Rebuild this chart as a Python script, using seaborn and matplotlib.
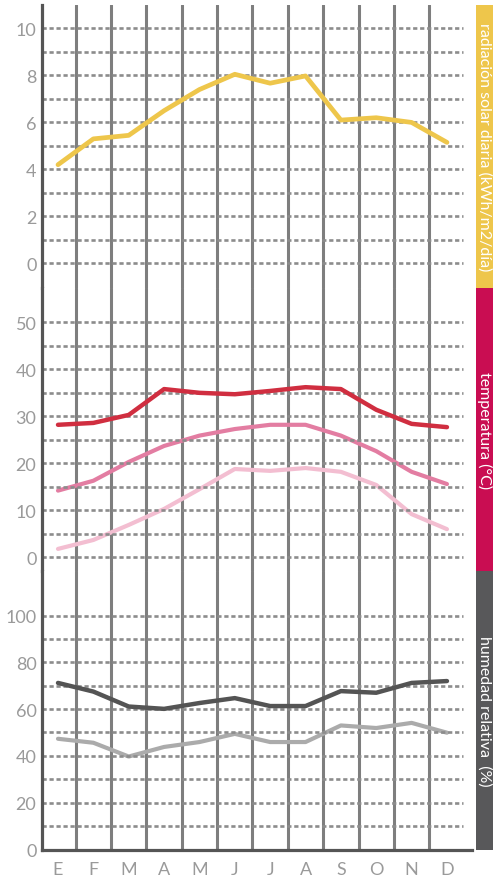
import matplotlib
matplotlib.use("Agg")
import matplotlib.pyplot as plt
import seaborn as sns
import pandas as pd
import numpy as np

sns.set_theme(style="white")
plt.rcParams["font.family"] = ["Lato", "DejaVu Sans"]

# Monthly climate data
months = ["E", "F", "M", "A", "M", "J", "J", "A", "S", "O", "N", "D"]
radiation = [4.2, 5.3, 5.45, 6.5, 7.4, 8.05, 7.67, 7.98, 6.1, 6.2, 6.0, 5.15]
temp_max = [28.2, 28.6, 30.3, 35.8, 35.0, 34.7, 35.4, 36.2, 35.8, 31.4, 28.4, 27.7]
temp_mean = [14.2, 16.3, 20.3, 23.7, 25.9, 27.3, 28.2, 28.2, 25.9, 22.6, 18.2, 15.6]
temp_min = [1.8, 3.7, 6.9, 10.3, 14.5, 18.8, 18.4, 19.0, 18.2, 15.4, 9.2, 6.0]
hum_max = [71.2, 67.5, 61.1, 60.1, 62.6, 64.7, 61.3, 61.3, 67.7, 67.0, 71.2, 72.0]
hum_min = [47.3, 45.6, 39.7, 43.8, 45.9, 49.4, 45.9, 45.9, 53.0, 51.9, 54.1, 49.9]

panel_titles = ["radiación solar diaria (kWh/m2/día)", "temperatura (°C)", "humedad relativa  (%)"]
band_colors = ["#EEC64B", "#C90D52", "#58585A"]

df = pd.DataFrame({
    "idx": np.arange(len(months)),
    "radiation": radiation,
    "temp_max": temp_max,
    "temp_mean": temp_mean,
    "temp_min": temp_min,
    "hum_max": hum_max,
    "hum_min": hum_min,
})

W, H = 493, 879
fig = plt.figure(figsize=(W / 100, H / 100), dpi=100)

left_px, right_px = 42, 472
panels_px = [(6, 289), (289, 572), (572, 851)]
axes = []
for top, bot in panels_px:
    ax = fig.add_axes([left_px / W, 1 - bot / H, (right_px - left_px) / W, (bot - top) / H])
    axes.append(ax)

ylims = [(-1.05, 11.0), (-2.9, 57.3), (-0.3, 119.1)]
grid_vals = [np.arange(0, 11, 1), np.arange(0, 51, 5), np.arange(10, 101, 10)]
tick_vals = [np.arange(0, 11, 2), np.arange(0, 51, 10), np.arange(0, 101, 20)]

grid_end = (463 - left_px) / (right_px - left_px)
label_col = "#9A9A9A"
vline_col = "#7E7E7E"
spine_col = "#555555"

for i, ax in enumerate(axes):
    ax.set_xlim(-0.4525, 11.708)
    ax.set_ylim(*ylims[i])
    ax.set_facecolor("white")
    for s in ["top", "right", "bottom"]:
        ax.spines[s].set_visible(False)
    ax.spines["left"].set_color(spine_col)
    ax.spines["left"].set_linewidth(2.3)
    ax.spines["left"].set_zorder(6)
    # month separators
    for xv in np.arange(0.5, 11, 1.0):
        ax.axvline(xv, color=vline_col, lw=2.2, zorder=1)
    # dashed horizontal grid
    for yv in grid_vals[i]:
        ax.axhline(yv, xmin=0, xmax=grid_end, color="#8C8C8C", lw=1.9,
                   linestyle=(0, (1.6, 1.05)), zorder=3)
    ax.set_yticks(tick_vals[i])
    ax.set_yticklabels([str(v) for v in tick_vals[i]])
    ax.tick_params(axis="y", length=0, pad=4, labelsize=13, labelcolor=label_col)
    ax.set_xticks([])
    ax.set_xlabel("")
    ax.set_ylabel("")
    # side band with its title
    ax.add_patch(plt.Rectangle(((476 - left_px) / (right_px - left_px), 0),
                               17 / (right_px - left_px), 1,
                               transform=ax.transAxes, facecolor=band_colors[i],
                               edgecolor="none", clip_on=False, zorder=0))
    ax.text((484.5 - left_px) / (right_px - left_px), 0.5, panel_titles[i],
            transform=ax.transAxes, rotation=270, ha="center", va="center",
            color="white", fontsize=11.5, clip_on=False, zorder=10)

# radiation
sns.lineplot(data=df, x="idx", y="radiation", ax=axes[0], color="#EEC64B", lw=3.4, zorder=5)

# temperatures
sns.lineplot(data=df, x="idx", y="temp_min", ax=axes[1], color="#F3BED1", lw=3.0, zorder=2)
sns.lineplot(data=df, x="idx", y="temp_mean", ax=axes[1], color="#E37DA2", lw=3.0, zorder=2)
sns.lineplot(data=df, x="idx", y="temp_max", ax=axes[1], color="#D02E40", lw=3.2, zorder=5)

# humidity
sns.lineplot(data=df, x="idx", y="hum_min", ax=axes[2], color="#ABABAB", lw=3.0, zorder=2)
sns.lineplot(data=df, x="idx", y="hum_max", ax=axes[2], color="#545454", lw=3.2, zorder=5)

for ax in axes:
    ax.set_xlabel("")
    ax.set_ylabel("")
    ax.set_xlim(-0.4525, 11.708)

# bottom axis with month labels
axb = axes[2]
axb.spines["bottom"].set_visible(True)
axb.spines["bottom"].set_color(spine_col)
axb.spines["bottom"].set_linewidth(2.3)
axb.spines["bottom"].set_zorder(6)
axb.set_xticks(np.arange(len(months)))
axb.set_xticklabels(months)
axb.tick_params(axis="x", length=0, pad=8, labelsize=13, labelcolor=label_col)

fig.savefig("out.png", dpi=100)
